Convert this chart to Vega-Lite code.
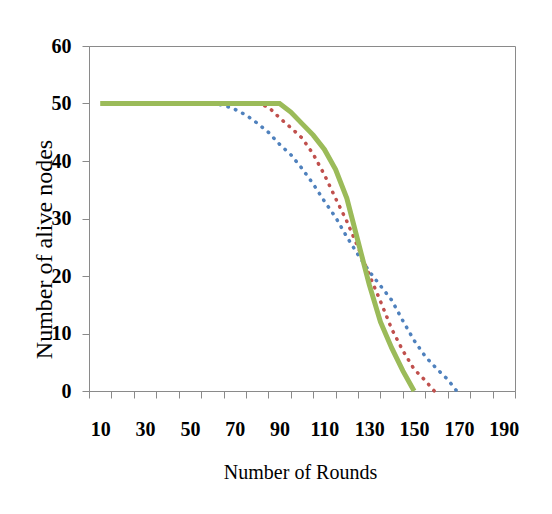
{
  "$schema": "https://vega.github.io/schema/vega-lite/v6.json",
  "width": 426,
  "height": 345,
  "autosize": {"type": "none"},
  "padding": {"left": 89, "top": 46, "right": 37, "bottom": 123},
  "background": "white",
  "config": {
    "view": {"stroke": "#8a8a8a", "strokeWidth": 1},
    "font": "Liberation Serif"
  },
  "datasets": {
    "s1": [
      {"round": 60, "alive": 50}, {"round": 65, "alive": 49.7}, {"round": 70, "alive": 49},
      {"round": 75, "alive": 48}, {"round": 80, "alive": 46.6}, {"round": 85, "alive": 45},
      {"round": 90, "alive": 42.9}, {"round": 95, "alive": 41.1}, {"round": 100, "alive": 38.7},
      {"round": 105, "alive": 36}, {"round": 110, "alive": 33}, {"round": 115, "alive": 30.2},
      {"round": 120, "alive": 26.8}, {"round": 125, "alive": 23.7}, {"round": 130, "alive": 20.8},
      {"round": 135, "alive": 18.3}, {"round": 140, "alive": 15.8}, {"round": 145, "alive": 12.2},
      {"round": 150, "alive": 8.8}, {"round": 155, "alive": 6}, {"round": 160, "alive": 3.9},
      {"round": 165, "alive": 2}, {"round": 169, "alive": 0}
    ],
    "s2": [
      {"round": 80, "alive": 50}, {"round": 85, "alive": 49.4}, {"round": 90, "alive": 47.5},
      {"round": 95, "alive": 45.8}, {"round": 100, "alive": 44}, {"round": 105, "alive": 41.2},
      {"round": 110, "alive": 37.6}, {"round": 115, "alive": 33.5}, {"round": 120, "alive": 29.5},
      {"round": 125, "alive": 25}, {"round": 130, "alive": 20.2}, {"round": 135, "alive": 15.6},
      {"round": 140, "alive": 10.8}, {"round": 145, "alive": 7}, {"round": 150, "alive": 3.8},
      {"round": 155, "alive": 1.8}, {"round": 159, "alive": 0}
    ],
    "s3": [
      {"round": 10, "alive": 50}, {"round": 20, "alive": 50}, {"round": 30, "alive": 50},
      {"round": 40, "alive": 50}, {"round": 50, "alive": 50}, {"round": 60, "alive": 50},
      {"round": 70, "alive": 50}, {"round": 80, "alive": 50}, {"round": 90, "alive": 50},
      {"round": 95, "alive": 48.5}, {"round": 100, "alive": 46.5}, {"round": 105, "alive": 44.5},
      {"round": 110, "alive": 42}, {"round": 115, "alive": 38.5}, {"round": 120, "alive": 33.5},
      {"round": 125, "alive": 26}, {"round": 130, "alive": 18.5}, {"round": 135, "alive": 12},
      {"round": 140, "alive": 7.5}, {"round": 145, "alive": 3.5}, {"round": 150, "alive": 0}
    ]
  },
  "encoding": {
    "x": {
      "field": "round",
      "type": "quantitative",
      "scale": {"domain": [5, 195], "nice": false, "zero": false},
      "axis": {
        "title": "Number of Rounds",
        "values": [5,10,15,20,25,30,35,40,45,50,55,60,65,70,75,80,85,90,95,100,105,110,115,120,125,130,135,140,145,150,155,160,165,170,175,180,185,190,195],
        "labelExpr": "datum.value % 20 == 10 ? datum.label : ''",
        "tickOpacity": {"condition": {"test": "datum.value % 10 == 5", "value": 1}, "value": 0},
        "grid": false,
        "tickSize": 7,
        "tickColor": "#8a8a8a",
        "domainColor": "#8a8a8a",
        "labelFont": "Liberation Serif",
        "labelFontSize": 20,
        "labelFontWeight": "bold",
        "labelColor": "black",
        "labelBaseline": "middle",
        "labelPadding": 31,
        "labelOverlap": false,
        "labelFlush": false,
        "titleFont": "Liberation Serif",
        "titleFontSize": 20,
        "titleFontWeight": "normal",
        "titleColor": "black",
        "titleBaseline": "middle",
        "titleX": 211,
        "titleY": 81
      }
    },
    "y": {
      "field": "alive",
      "type": "quantitative",
      "scale": {"domain": [0, 60], "nice": false},
      "axis": {
        "title": "Number of alive nodes",
        "values": [0, 10, 20, 30, 40, 50, 60],
        "grid": false,
        "tickSize": 7,
        "tickColor": "#8a8a8a",
        "domainColor": "#8a8a8a",
        "labelFont": "Liberation Serif",
        "labelFontSize": 20,
        "labelFontWeight": "bold",
        "labelColor": "black",
        "labelPadding": 11,
        "titleFont": "Liberation Serif",
        "titleFontSize": 24,
        "titleFontWeight": "normal",
        "titleColor": "black",
        "titleBaseline": "middle",
        "titleAlign": "center",
        "titleX": -45,
        "titleY": 203
      }
    }
  },
  "layer": [
    {
      "data": {"name": "s1"},
      "mark": {"type": "line", "color": "#4F81BD", "strokeWidth": 3.5, "strokeDash": [0.5, 7.5], "strokeCap": "round"}
    },
    {
      "data": {"name": "s2"},
      "mark": {"type": "line", "color": "#C0504D", "strokeWidth": 3.5, "strokeDash": [0.5, 7.5], "strokeCap": "round"}
    },
    {
      "data": {"name": "s3"},
      "mark": {"type": "line", "color": "#9BBB59", "strokeWidth": 5, "strokeCap": "butt"}
    }
  ]
}
